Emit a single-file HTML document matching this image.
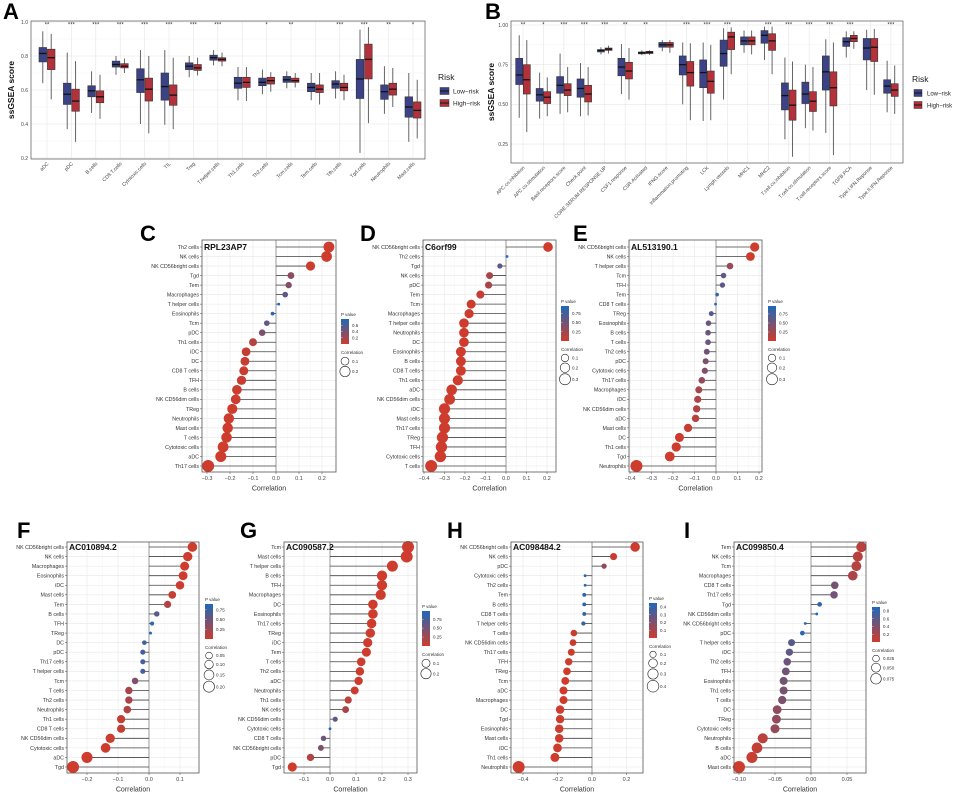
<!DOCTYPE html>
<html><head><meta charset="utf-8"><style>
body{margin:0;background:#fff}
svg{display:block;font-family:"Liberation Sans",Arial,sans-serif}
</style></head><body>
<svg id="fig" width="955" height="792" viewBox="0 0 955 792" xmlns="http://www.w3.org/2000/svg"></svg>
<script>
// ---------- Panel A data ----------
const aCats=["aDC","pDC","B.cells","CD8.T.cells","Cytotoxic.cells","TIL","Treg","T.helper.cells","Th1.cells","Th2.cells","Tcm.cells","Tem.cells","Tfh.cells","Tgd.cells","Neutrophils","Mast.cells"];
const aSig=["**","***","***","***","***","***","***","***","","*","**","","***","***","**","*"];
const aLow=[[.64,.765,.815,.85,.945],[.37,.515,.575,.64,.82],[.465,.56,.595,.625,.71],[.69,.735,.75,.77,.80],[.40,.585,.66,.725,.835],[.395,.54,.62,.70,.835],[.675,.72,.74,.76,.80],[.745,.775,.79,.805,.835],[.54,.61,.64,.675,.735],[.575,.625,.645,.67,.72],[.61,.645,.66,.68,.71],[.54,.59,.615,.64,.70],[.55,.61,.635,.655,.71],[.23,.55,.665,.78,.955],[.46,.545,.59,.63,.74],[.295,.44,.50,.56,.70]];
const aHigh=[[.545,.72,.79,.84,.93],[.295,.475,.535,.605,.77],[.43,.525,.56,.595,.69],[.70,.73,.74,.755,.785],[.345,.535,.605,.67,.80],[.37,.51,.57,.63,.79],[.685,.715,.73,.75,.79],[.74,.77,.78,.79,.82],[.535,.615,.645,.675,.735],[.59,.635,.655,.675,.705],[.615,.645,.655,.67,.70],[.515,.585,.605,.63,.70],[.54,.595,.615,.64,.69],[.405,.665,.78,.87,.97],[.50,.57,.605,.64,.73],[.315,.435,.48,.53,.66]];
const aTicks=[0.2,0.4,0.6,0.8,1.0];
// ---------- Panel B data ----------
const bCats=["APC.co.inhibition","APC.co.stimulation","Basil.receptors.score","Check.point","CORE.SERUM.RESPONSE.UP","CSF1.response","CSR.Activated","IFNG.score","Inflammation.promoting","LCK","Lymph.vessels","MHC1","MHC2","T.cell.co.inhibition","T.cell.co.stimulation","T.cell.receptors.score","TGFB.PCA","Type.I.IFN.Reponse","Type.II.IFN.Reponse"];
const bSig=["**","*","***","***","***","**","**","","***","***","***","","***","***","***","***","***","","***"];
const bLow=[[.415,.625,.685,.79,.935],[.41,.52,.56,.60,.70],[.44,.57,.62,.675,.82],[.425,.545,.60,.66,.76],[.815,.83,.84,.845,.86],[.565,.68,.735,.79,.88],[.81,.818,.825,.83,.84],[.835,.86,.875,.89,.905],[.50,.685,.75,.805,.89],[.395,.605,.70,.78,.89],[.53,.74,.82,.905,.98],[.825,.875,.90,.925,.965],[.78,.885,.935,.965,.99],[.28,.465,.555,.635,.795],[.35,.505,.565,.64,.75],[.32,.59,.705,.805,.91],[.795,.865,.895,.92,.96],[.59,.78,.855,.915,.97],[.45,.57,.615,.655,.775]];
const bHigh=[[.325,.565,.655,.75,.905],[.425,.505,.545,.58,.67],[.45,.555,.59,.63,.735],[.43,.515,.565,.62,.735],[.82,.84,.848,.855,.87],[.53,.66,.71,.765,.855],[.812,.82,.828,.834,.84],[.825,.86,.875,.89,.905],[.40,.615,.70,.77,.885],[.40,.57,.645,.71,.875],[.69,.845,.925,.955,.985],[.815,.875,.90,.925,.965],[.69,.84,.90,.945,.99],[.17,.40,.495,.59,.77],[.335,.455,.52,.58,.735],[.18,.49,.605,.705,.89],[.85,.895,.915,.935,.96],[.56,.77,.86,.915,.975],[.44,.55,.59,.63,.745]];
const bTicks=[0.25,0.5,0.75,1.0];
const bTickLabels=["0.25","0.50","0.75","1.00"];
// ---------- Lollipop data ----------
const cNames=["Th2 cells","NK cells","NK CD56bright cells","Tgd","Tem","Macrophages","T helper cells","Eosinophils","Tcm","pDC","Th1 cells","iDC","DC","CD8 T cells","TFH","B cells","NK CD56dim cells","TReg","Neutrophils","Mast cells","T cells","Cytotoxic cells","aDC","Th17 cells"];
const cVals=[0.23,0.22,0.15,0.065,0.055,0.04,0.012,-0.015,-0.04,-0.06,-0.1,-0.13,-0.135,-0.14,-0.15,-0.17,-0.175,-0.19,-0.205,-0.21,-0.215,-0.23,-0.24,-0.295];
const cP=[0,0,0.01,0.3,0.35,0.5,0.8,0.75,0.5,0.38,0.1,0.03,0.03,0.02,0.02,0.01,0.01,0,0,0,0,0,0,0];
const dNames=["NK CD56bright cells","Th2 cells","Tgd","NK cells","pDC","Tem","Tcm","Macrophages","T helper cells","Neutrophils","DC","Eosinophils","B cells","CD8 T cells","Th1 cells","aDC","NK CD56dim cells","iDC","Mast cells","Th17 cells","TReg","TFH","Cytotoxic cells","T cells"];
const dVals=[0.205,0.005,-0.03,-0.08,-0.085,-0.125,-0.17,-0.18,-0.205,-0.205,-0.205,-0.22,-0.22,-0.22,-0.235,-0.265,-0.275,-0.3,-0.3,-0.3,-0.31,-0.315,-0.32,-0.365];
const dP=[0,0.95,0.6,0.2,0.2,0.05,0.01,0,0,0,0,0,0,0,0,0,0,0,0,0,0,0,0,0];
const eNames=["NK CD56bright cells","NK cells","T helper cells","Tcm","TFH","Tem","CD8 T cells","TReg","Eosinophils","B cells","T cells","Th2 cells","pDC","Cytotoxic cells","Th17 cells","Macrophages","iDC","NK CD56dim cells","aDC","Mast cells","DC","Th1 cells","Tgd","Neutrophils"];
const eVals=[0.18,0.16,0.065,0.035,0.03,0.005,-0.002,-0.022,-0.035,-0.037,-0.037,-0.043,-0.048,-0.052,-0.066,-0.08,-0.085,-0.09,-0.095,-0.13,-0.17,-0.185,-0.215,-0.37];
const eP=[0,0,0.3,0.6,0.62,0.9,0.97,0.7,0.55,0.55,0.55,0.5,0.45,0.42,0.33,0.22,0.18,0.16,0.12,0.04,0.01,0,0,0];
const fNames=["NK CD56bright cells","NK cells","Macrophages","Eosinophils","iDC","Mast cells","Tem","B cells","TFH","TReg","DC","pDC","Th17 cells","T helper cells","Tcm","T cells","Th2 cells","Neutrophils","Th1 cells","CD8 T cells","NK CD56dim cells","Cytotoxic cells","aDC","Tgd"];
const fVals=[0.14,0.125,0.115,0.11,0.1,0.075,0.06,0.025,0.01,0.005,-0.015,-0.02,-0.02,-0.02,-0.045,-0.065,-0.065,-0.07,-0.09,-0.09,-0.125,-0.14,-0.2,-0.245];
const fP=[0,0,0,0,0.01,0.05,0.15,0.6,0.85,0.9,0.75,0.7,0.7,0.7,0.4,0.2,0.2,0.15,0.05,0.05,0.01,0,0,0];
const gNames=["Tcm","Mast cells","T helper cells","B cells","TFH","Macrophages","DC","Eosinophils","Th17 cells","TReg","iDC","Tem","T cells","Th2 cells","aDC","Neutrophils","Th1 cells","NK cells","NK CD56dim cells","Cytotoxic cells","CD8 T cells","NK CD56bright cells","pDC","Tgd"];
const gVals=[0.3,0.295,0.24,0.2,0.2,0.195,0.165,0.165,0.16,0.155,0.145,0.14,0.12,0.115,0.11,0.095,0.07,0.06,0.02,0.0,-0.025,-0.035,-0.075,-0.145];
const gP=[0,0,0,0,0,0,0,0,0,0,0,0,0,0.01,0.01,0.02,0.1,0.2,0.65,0.98,0.55,0.45,0.15,0];
const hNames=["NK CD56bright cells","NK cells","pDC","Cytotoxic cells","Th2 cells","Tem","B cells","CD8 T cells","T helper cells","T cells","NK CD56dim cells","Th17 cells","TFH","TReg","Tcm","aDC","Macrophages","DC","Tgd","Eosinophils","Mast cells","iDC","Th1 cells","Neutrophils"];
const hVals=[0.25,0.125,0.07,-0.04,-0.04,-0.045,-0.045,-0.045,-0.05,-0.105,-0.11,-0.12,-0.135,-0.145,-0.155,-0.165,-0.165,-0.185,-0.185,-0.19,-0.19,-0.2,-0.215,-0.425];
const hP=[0,0.01,0.15,0.45,0.45,0.42,0.42,0.4,0.37,0.01,0.01,0,0,0,0,0,0,0,0,0,0,0,0,0];
const iNames=["Tem","NK cells","Tcm","Macrophages","CD8 T cells","Th17 cells","Tgd","NK CD56dim cells","NK CD56bright cells","pDC","T helper cells","iDC","Th2 cells","TFH","Eosinophils","Th1 cells","T cells","DC","TReg","Cytotoxic cells","Neutrophils","B cells","aDC","Mast cells"];
const iVals=[0.07,0.065,0.063,0.058,0.033,0.032,0.012,0.008,-0.008,-0.012,-0.027,-0.03,-0.033,-0.035,-0.038,-0.038,-0.04,-0.047,-0.048,-0.05,-0.067,-0.075,-0.082,-0.1];
const iP=[0.1,0.12,0.13,0.17,0.45,0.47,0.8,0.88,0.9,0.85,0.6,0.55,0.5,0.48,0.45,0.45,0.42,0.32,0.3,0.28,0.1,0.06,0.03,0];

const NS="http://www.w3.org/2000/svg";
const svg=document.getElementById('fig');
function mk(tag,parent,attrs){const e=document.createElementNS(NS,tag);for(const k in attrs)e.setAttribute(k,attrs[k]);(parent||svg).appendChild(e);return e;}
function txt(parent,x,y,s,size,anchor,extra){const t=mk('text',parent,Object.assign({x:x,y:y,'font-size':size,'text-anchor':anchor||'start',fill:'#222'},extra||{}));t.textContent=s;return t;}

[["A",3,19],["B",485,19],["C",140,241],["D",360,241],["E",573,241],["F",17,538],["G",240,538],["H",447,538],["I",684,538]].forEach(p=>{
  const t=txt(svg,p[1],p[2],p[0],22,'start',{'font-weight':'bold',fill:'#000'});
  
  
});

function boxPanel(id,cfg,cats,sig,low,high,ticks,tickLabels){
  const g=mk('g');
  
  
  const Y=v=>cfg.y1+(cfg.v1-v)*cfg.k;
  const X=i=>cfg.c0+i*cfg.step;
  mk('rect',g,{x:cfg.l,y:cfg.t,width:cfg.r-cfg.l,height:cfg.b-cfg.t,fill:'#fff'});
  ticks.forEach((t,i)=>{
    mk('line',g,{x1:cfg.l,x2:cfg.r,y1:Y(t),y2:Y(t),stroke:'#e6e6e6','stroke-width':0.6});
    if(i<ticks.length-1){const m=(t+ticks[i+1])/2;mk('line',g,{x1:cfg.l,x2:cfg.r,y1:Y(m),y2:Y(m),stroke:'#f2f2f2','stroke-width':0.4});}
    const tl=txt(g,cfg.l-3,Y(t)+1.8,tickLabels[i],5,'end',{fill:'#444'});
    
    
  });
  cats.forEach((c,i)=>mk('line',g,{x1:X(i),x2:X(i),y1:cfg.t,y2:cfg.b,stroke:'#e6e6e6','stroke-width':0.6}));
  const cols=['#3b4285','#b2313a'];
  cats.forEach((c,i)=>{
    [low[i],high[i]].forEach((s,j)=>{
      const cx=X(i)+(j?1:-1)*cfg.off;
      const bg=mk('g',g);
      
      
      mk('line',bg,{x1:cx,x2:cx,y1:Y(s[0]),y2:Y(s[4]),stroke:'#555','stroke-width':0.9});
      mk('rect',bg,{x:cx-cfg.w/2,y:Y(s[3]),width:cfg.w,height:Y(s[1])-Y(s[3]),fill:cols[j],stroke:'#333','stroke-width':0.6});
      mk('line',bg,{x1:cx-cfg.w/2,x2:cx+cfg.w/2,y1:Y(s[2]),y2:Y(s[2]),stroke:'#111','stroke-width':1.3});
    });
    const st=txt(g,X(i),cfg.t+5.5,sig[i],6,'middle',{fill:'#333'});
    
    
    const xl=txt(g,0,0,c,5,'end',{fill:'#444',transform:`translate(${X(i)+2},${cfg.b+5}) rotate(-45)`});
    
    
  });
  mk('rect',g,{x:cfg.l,y:cfg.t,width:cfg.r-cfg.l,height:cfg.b-cfg.t,fill:'none',stroke:'#555','stroke-width':0.7});
  const yt=txt(g,0,0,'ssGSEA score',8.5,'middle',{'font-weight':'bold',fill:'#111',transform:`translate(${cfg.l-17},${(cfg.t+cfg.b)/2}) rotate(-90)`});
  
  
  const lg=mk('g',g);
  
  
  txt(lg,cfg.lx,cfg.ly,'Risk',8.5,'start',{fill:'#222'});
  ['Low\u2212risk','High\u2212risk'].forEach((s,j)=>{
    const y=cfg.ly+6+j*12;
    const en=mk('g',lg);
    
    
    mk('rect',en,{x:cfg.lx+2,y:y+1.5,width:cfg.kw,height:7,fill:cols[j],stroke:'#333','stroke-width':0.5});
    mk('line',en,{x1:cfg.lx+2,x2:cfg.lx+2+cfg.kw,y1:y+5,y2:y+5,stroke:'#111','stroke-width':1});
    txt(en,cfg.lx+cfg.tx,y+7.5,s,cfg.fs,'start',{fill:'#222'});
  });
}
boxPanel('a',{l:31,r:425,t:21,b:159,y1:22,v1:1.0,k:170,c0:47,step:24.4,off:4.2,w:7.6,lx:438,ly:80,kw:9,tx:15,fs:6.5},aCats,aSig,aLow,aHigh,aTicks,["0.2","0.4","0.6","0.8","1.0"]);
boxPanel('b',{l:511,r:903,t:21,b:163,y1:25,v1:1.0,k:158.7,c0:523,step:20.44,off:3.8,w:7,lx:912,ly:82,kw:8,tx:15,fs:6},bCats,bSig,bLow,bHigh,bTicks,bTickLabels);

function lolli(id,cfg,names,vals,ps,xticks,sizeTicks,pTicks,pmax){
  const g=mk('g');
  
  
  const k=(cfg.p0-cfg.pa)/(0-cfg.va);
  const X=v=>cfg.p0+v*k;
  const n=names.length, dy=(cfg.yN-cfg.y0)/(n-1);
  const Yr=i=>cfg.y0+i*dy;
  mk('rect',g,{x:cfg.l,y:cfg.t,width:cfg.r-cfg.l,height:cfg.b-cfg.t,fill:'#fff'});
  xticks.forEach((t,i)=>{
    mk('line',g,{x1:X(t),x2:X(t),y1:cfg.t,y2:cfg.b,stroke:'#e8e8e8','stroke-width':0.6});
    if(i<xticks.length-1){const m=(t+xticks[i+1])/2;mk('line',g,{x1:X(m),x2:X(m),y1:cfg.t,y2:cfg.b,stroke:'#f3f3f3','stroke-width':0.4});}
    const tl=txt(g,X(t),cfg.b+8,cfg.fmt(t),5.5,'middle',{fill:'#444'});
    
    
    mk('line',g,{x1:X(t),x2:X(t),y1:cfg.b,y2:cfg.b+2,stroke:'#444','stroke-width':0.5});
  });
  const xt=txt(g,(cfg.l+cfg.r)/2,cfg.b+18.5,'Correlation',7,'middle',{fill:'#333'});
  
  
  const maxA=Math.max(...vals.map(Math.abs)), minA=Math.min(...vals.map(Math.abs));
  const R=v=>1.4+4.6*Math.sqrt(Math.max(0,(Math.abs(v)-minA)/(maxA-minA)));
  const col=p=>{const f=Math.min(1,Math.max(0,p/pmax));const a=[205,60,45],b=[30,105,185];return `rgb(${a.map((c,i)=>Math.round(c+(b[i]-c)*f)).join(',')})`;};
  names.forEach((nm,i)=>{
    const y=Yr(i);
    mk('line',g,{x1:cfg.l,x2:cfg.r,y1:y,y2:y,stroke:'#e8e8e8','stroke-width':0.6});
    const yl=txt(g,cfg.l-3,y+1.9,nm,5.3,'end',{fill:'#333'});
    
    
    mk('line',g,{x1:cfg.l-2,x2:cfg.l,y1:y,y2:y,stroke:'#444','stroke-width':0.5});
  });
  mk('line',g,{x1:X(0),x2:X(0),y1:cfg.t,y2:cfg.b,stroke:'#999','stroke-width':1});
  names.forEach((nm,i)=>{
    const y=Yr(i);
    const pg=mk('g',g);
    
    
    mk('line',pg,{x1:X(0),x2:X(vals[i]),y1:y,y2:y,stroke:'#444','stroke-width':0.8});
    mk('circle',pg,{cx:X(vals[i]),cy:y,r:R(vals[i]),fill:col(ps[i])});
  });
  mk('rect',g,{x:cfg.l,y:cfg.t,width:cfg.r-cfg.l,height:cfg.b-cfg.t,fill:'none',stroke:'#555','stroke-width':0.8});
  const gl=txt(g,cfg.l+2,cfg.y0+3,cfg.gene,8.5,'start',{'font-weight':'bold',fill:'#111'});
  
  
  const lg=mk('g',g);
  
  
  txt(lg,cfg.lx,cfg.ly,'P value',4.5,'start',{fill:'#333'});
  const gid='grad'+id;
  const defs=mk('defs',lg);
  const lgr=mk('linearGradient',defs,{id:gid,x1:0,y1:0,x2:0,y2:1});
  mk('stop',lgr,{offset:'0','stop-color':col(pmax)});
  mk('stop',lgr,{offset:'0.5','stop-color':col(pmax/2)});
  mk('stop',lgr,{offset:'1','stop-color':col(0)});
  const bt=cfg.ly+3, bh=cfg.bh;
  mk('rect',lg,{x:cfg.lx,y:bt,width:8,height:bh,fill:`url(#${gid})`});
  pTicks.forEach(t=>{
    const y=bt+bh-(t/pmax)*bh;
    mk('line',lg,{x1:cfg.lx,x2:cfg.lx+1.5,y1:y,y2:y,stroke:'#fff','stroke-width':0.4});
    txt(lg,cfg.lx+11,y+1.6,cfg.pfmt(t),4.5,'start',{fill:'#333'});
  });
  const sg=mk('g',g);
  
  
  let y=bt+bh+10;
  txt(sg,cfg.lx,y,'Correlation',4.5,'start',{fill:'#333'});
  y+=2;
  let prev=0;
  sizeTicks.forEach(s=>{
    const r=R(s);
    y+=prev+r+1.2; prev=r;
    mk('circle',sg,{cx:cfg.lx+4,cy:y,r:r,fill:'none',stroke:'#222','stroke-width':0.6});
    txt(sg,cfg.lx+11,y+1.6,cfg.sfmt(s),4.5,'start',{fill:'#333'});
  });
}
const f1=v=>v===0?'0.0':v.toFixed(1).replace('-','\u2212');
const f2=v=>v.toFixed(2);
const f1p=v=>v.toFixed(1);
const f2s=v=>v===0?'0.00':v.toFixed(2).replace('-','\u2212');
const f3=v=>v.toFixed(3);
const topRow={t:240,b:472,y0:247,yN:466}, botRow={t:542,b:773,y0:547,yN:767};
lolli('c',Object.assign({l:202,r:336,pa:207,va:-0.3,p0:276,gene:'RPL23AP7',lx:341,ly:316,bh:25,fmt:f1,pfmt:f1p,sfmt:f1p},topRow),cNames,cVals,cP,[-0.3,-0.2,-0.1,0,0.1,0.2],[0.1,0.2],[0.2,0.4,0.6],0.8);
lolli('d',Object.assign({l:423,r:556,pa:424,va:-0.4,p0:506,gene:'C6orf99',lx:561,ly:303,bh:35,fmt:f1,pfmt:f2,sfmt:f1p},topRow),dNames,dVals,dP,[-0.4,-0.3,-0.2,-0.1,0,0.1,0.2],[0.1,0.2,0.3],[0.25,0.5,0.75],0.95);
lolli('e',Object.assign({l:629,r:762,pa:630,va:-0.4,p0:716,gene:'AL513190.1',lx:768,ly:303,bh:35,fmt:f1,pfmt:f2,sfmt:f1p},topRow),eNames,eVals,eP,[-0.4,-0.3,-0.2,-0.1,0,0.1,0.2],[0.1,0.2,0.3],[0.25,0.5,0.75],0.97);
lolli('f',Object.assign({l:67,r:199,pa:87,va:-0.2,p0:149,gene:'AC010894.2',lx:205,ly:601,bh:35,fmt:f1,pfmt:f2,sfmt:f2},botRow),fNames,fVals,fP,[-0.2,-0.1,0,0.1],[0.05,0.10,0.15,0.20],[0.25,0.5,0.75],0.9);
lolli('g',Object.assign({l:284,r:417,pa:304,va:-0.1,p0:330,gene:'AC090587.2',lx:422,ly:608,bh:35,fmt:f1,pfmt:f2,sfmt:f1p},botRow),gNames,gVals,gP,[-0.1,0,0.1,0.2,0.3],[0.1,0.2],[0.25,0.5,0.75],0.98);
lolli('h',Object.assign({l:511,r:643,pa:523,va:-0.4,p0:592,gene:'AC098484.2',lx:649,ly:600,bh:35,fmt:f1,pfmt:f1p,sfmt:f1p},botRow),hNames,hVals,hP,[-0.4,-0.2,0,0.2],[0.1,0.2,0.3,0.4],[0.1,0.2,0.3,0.4],0.45);
lolli('i',Object.assign({l:734,r:866,pa:739,va:-0.1,p0:811,gene:'AC099850.4',lx:872,ly:604,bh:35,fmt:f2s,pfmt:f1p,sfmt:f3},botRow),iNames,iVals,iP,[-0.1,-0.05,0,0.05],[0.025,0.05,0.075],[0.2,0.4,0.6,0.8],0.9);
</script>
</body></html>
